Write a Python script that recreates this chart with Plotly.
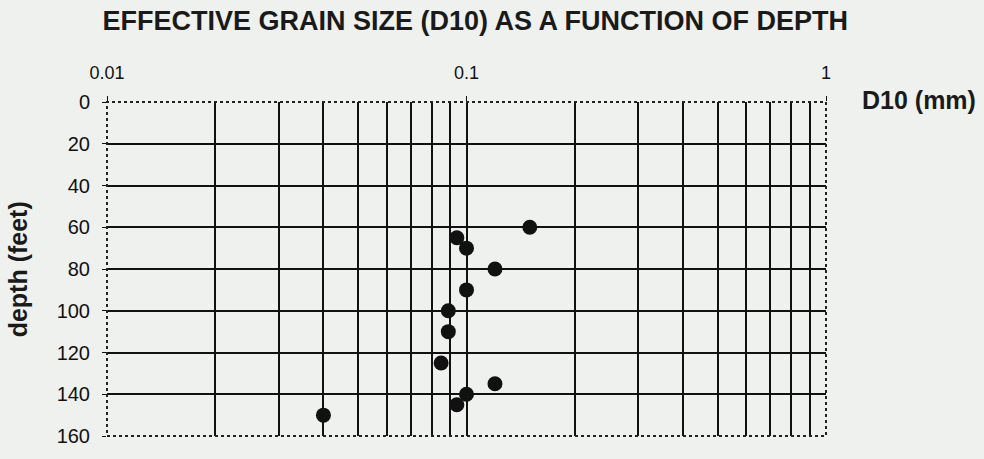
import plotly.graph_objects as go

# Data
d10_mm = [0.15, 0.094, 0.1, 0.12, 0.1, 0.089, 0.089, 0.085, 0.12, 0.1, 0.094, 0.04]
depth_ft = [60, 65, 70, 80, 90, 100, 110, 125, 135, 140, 145, 150]

x_tick_vals = [0.01, 0.1, 1]
x_tick_text = ["0.01", "0.1", "1"]
x_grid_vals = [0.02, 0.03, 0.04, 0.05, 0.06, 0.07, 0.08, 0.09, 0.1,
               0.2, 0.3, 0.4, 0.5, 0.6, 0.7, 0.8, 0.9]
y_tick_vals = [0, 20, 40, 60, 80, 100, 120, 140, 160]
y_grid_vals = [20, 40, 60, 80, 100, 120, 140]

BG = "#eff1ef"
FONT = "Liberation Sans, Arial, sans-serif"

fig = go.Figure()
fig.add_trace(go.Scatter(
    x=d10_mm, y=depth_ft, mode="markers",
    marker=dict(size=15, color="#111111"),
    showlegend=False, hoverinfo="x+y",
))

fig.update_layout(
    width=984, height=459,
    paper_bgcolor=BG, plot_bgcolor=BG,
    margin=dict(l=107, r=158, t=102, b=16),
    font=dict(family=FONT, size=18, color="#111111"),
    title=dict(
        text="<b>EFFECTIVE GRAIN SIZE (D10) AS A FUNCTION OF DEPTH</b>",
        x=0.483, xanchor="center", y=0.955, yanchor="middle",
        font=dict(family=FONT, size=27, color="#1a1a1a"),
    ),
    xaxis=dict(
        type="log", range=[-2, 0], side="top",
        tickvals=x_tick_vals, ticktext=x_tick_text,
        showgrid=False, zeroline=False, showline=False,
        ticks="outside", ticklen=5, tickwidth=1, tickcolor="#111111",
        ticklabelstandoff=10,
        tickfont=dict(size=18),
        minor=dict(tickvals=x_grid_vals, showgrid=True,
                   gridcolor="#111111", gridwidth=2, ticks=""),
    ),
    yaxis=dict(
        range=[160, 0],
        tickvals=y_tick_vals,
        showgrid=False, zeroline=False, showline=False,
        ticks="outside", ticklen=4, tickwidth=1, tickcolor="#111111",
        ticklabelstandoff=8,
        tickfont=dict(size=20),
        minor=dict(tickvals=y_grid_vals, showgrid=True,
                   gridcolor="#111111", gridwidth=2, ticks=""),
    ),
    shapes=[dict(type="rect", xref="paper", yref="paper", x0=0, y0=0, x1=1, y1=1,
                 line=dict(color="#222222", width=2, dash="dot"), layer="above")],
    annotations=[
        dict(text="<b>D10 (mm)</b>", xref="paper", yref="paper",
             x=1.047, y=1.006, xanchor="left", yanchor="middle",
             showarrow=False, font=dict(family=FONT, size=25, color="#1a1a1a")),
        dict(text="<b>depth (feet)</b>", xref="paper", yref="paper",
             x=-0.124, y=0.4985, xanchor="center", yanchor="middle", textangle=-90,
             showarrow=False, font=dict(family=FONT, size=25, color="#1a1a1a")),
    ],
)

fig.write_html("out.html",
               config={"displayModeBar": False},
               post_script="document.body.style.margin='0';document.body.style.overflow='hidden';")
